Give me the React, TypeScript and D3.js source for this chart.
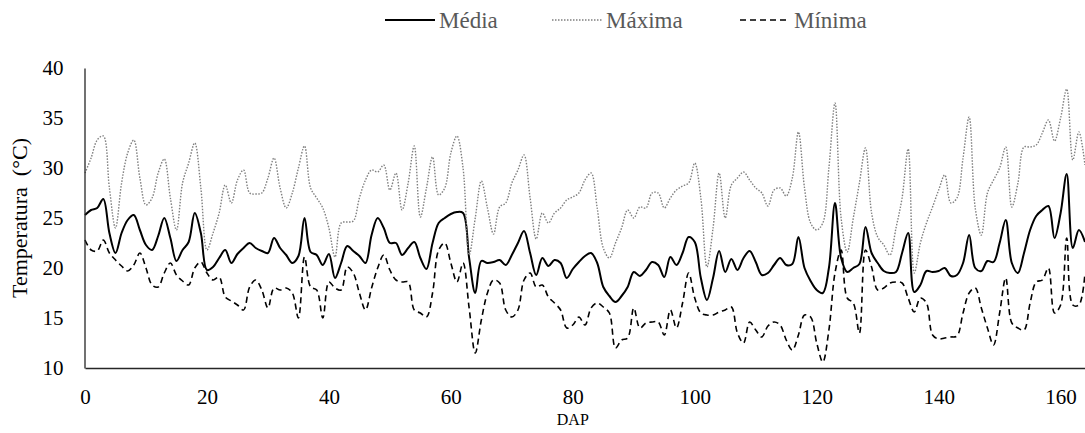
import React, { useRef, useEffect } from "react";
import * as d3 from "d3";

// days after planting (DAP)
const dap = d3.range(0, 165);

const media = [
  25.3, 25.8, 26.0, 26.9, 23.5, 21.5, 23.5, 24.8, 25.3, 23.8,
  22.3, 21.8, 23.2, 25.0, 23.0, 20.7, 21.8, 22.6, 25.5, 23.5,
  19.8, 20.1, 21.0, 21.8, 20.5, 21.4, 22.0, 22.5, 22.0, 21.7,
  21.5, 23.0, 22.0, 21.3, 20.5, 21.2, 25.0, 21.6, 21.3, 20.3,
  21.4, 19.0, 20.5, 22.2, 21.7, 21.2, 20.5, 23.3, 25.0, 24.0,
  22.5, 22.5, 21.3, 22.0, 22.6, 21.0, 19.9, 22.5, 24.5, 25.0,
  25.4, 25.6, 25.5, 21.0, 17.5, 20.7, 20.5, 20.6, 20.8, 20.3,
  21.3, 22.5, 23.7, 21.5, 19.3, 21.0, 20.2, 20.8, 20.5, 19.0,
  19.9, 20.6, 21.2, 21.5, 20.5, 18.1, 17.2, 16.6, 17.2, 18.1,
  19.6, 19.2, 19.8, 20.6, 20.3, 19.1, 21.1, 20.3, 21.5, 23.1,
  22.6, 19.0, 16.8, 19.0, 21.7, 19.6, 20.9, 19.8, 21.0, 21.7,
  20.6, 19.3, 19.5, 20.3, 21.0, 20.3, 20.4, 23.1, 20.0, 18.7,
  17.8, 17.5, 20.0, 26.5, 21.0, 19.6, 20.0, 20.4, 24.1, 21.5,
  20.5, 19.7, 19.5, 19.6, 21.5, 23.5, 17.6, 18.3, 19.7, 19.6,
  19.7, 20.0, 19.2, 19.3, 20.5, 23.3, 20.0, 19.7, 20.7, 20.6,
  22.5, 24.8, 20.5, 19.5, 21.5, 23.8, 25.2, 25.8, 26.2, 23.0,
  25.5, 29.4, 22.0, 23.8, 22.6,
];

const maxima = [
  29.5, 31.0, 32.8, 33.2, 28.0, 24.0, 28.5, 31.5, 32.8, 29.0,
  26.3, 27.0, 29.5, 30.9, 27.0, 23.8, 28.5, 30.5, 32.5, 28.0,
  21.8, 23.5, 25.5, 28.3, 26.5, 28.8, 29.8, 27.5, 27.4, 27.5,
  29.0, 31.0, 28.0, 26.0, 27.5, 30.0, 32.2, 28.0, 27.0, 26.0,
  24.0, 21.1, 24.5, 24.6, 24.7, 27.0, 28.8, 29.8, 29.6, 30.3,
  27.8, 29.5, 25.8, 28.5, 32.2, 25.1, 28.0, 31.1, 27.3, 28.0,
  31.5, 33.2, 30.0, 21.3, 25.0, 28.7, 26.0, 23.4, 26.1, 26.5,
  28.5, 29.8, 31.3, 27.0, 22.9, 25.5, 24.5, 25.5, 26.0, 26.8,
  27.1, 27.5, 28.8, 29.5, 26.0, 22.0, 21.0, 22.5, 24.0, 25.8,
  25.0, 26.1, 26.0, 27.5, 27.5, 26.0, 27.0, 27.8, 28.2, 28.5,
  30.5, 27.0, 20.1, 24.0, 29.5, 25.0, 28.3, 29.0, 29.6, 28.8,
  28.0, 27.5, 26.2, 27.8, 28.0, 27.2, 29.0, 33.6, 28.0, 24.5,
  23.8, 24.5, 30.0, 36.5, 25.0, 21.6, 25.0, 28.5, 32.0, 25.5,
  23.1, 22.3, 21.3, 24.0, 27.0, 31.9, 19.5, 22.5, 24.5, 26.1,
  27.8, 29.3, 26.5, 27.0, 31.0, 35.1, 26.0, 23.3, 27.5, 28.8,
  30.0, 32.1, 26.1, 28.5, 32.1, 32.1, 32.3, 33.5, 34.8, 32.7,
  35.0, 37.9, 30.8, 33.6, 30.3,
];

const minima = [
  22.8, 21.8, 21.7, 22.8, 21.5, 20.8, 20.2, 19.7, 20.3, 21.5,
  20.0, 18.3, 18.1, 19.5, 20.5, 19.3, 18.7, 18.3, 20.0, 20.6,
  19.5, 18.8, 19.1, 17.1, 16.7, 16.3, 15.8, 18.1, 18.8, 17.8,
  16.0, 18.0, 17.8, 18.0, 17.5, 15.0, 21.1, 18.1, 17.8, 15.0,
  18.6, 18.0, 17.8, 20.1, 19.5, 17.5, 15.8, 18.0, 20.0, 21.3,
  19.8, 18.8, 18.6, 18.6, 15.8, 15.5, 15.1, 17.5, 21.8, 22.5,
  20.5, 18.6, 20.5, 16.0, 11.5, 14.8, 17.5, 18.8, 18.5, 15.8,
  15.1, 15.8, 18.8, 19.5, 18.1, 18.3, 17.1, 16.5, 15.8, 14.0,
  14.3, 15.1, 14.3, 16.0, 16.5, 16.1, 15.5, 12.0, 12.8, 13.0,
  16.0, 14.0, 14.5, 14.6, 14.6, 13.3, 15.8, 14.0, 16.5, 19.5,
  17.0, 15.5, 15.3, 15.3, 15.6, 15.8, 16.1, 13.5, 12.5, 14.6,
  13.8, 13.1, 14.2, 14.6, 14.3, 12.8, 11.8, 13.3, 15.3, 15.1,
  12.5, 10.6, 13.8, 19.5, 21.8, 17.0, 16.5, 13.5, 21.8, 20.1,
  17.8, 18.0, 18.5, 18.6, 18.5, 17.0, 15.6, 17.0, 16.5, 13.3,
  12.9, 13.0, 13.1, 13.2, 15.5, 17.5, 18.0, 16.0, 14.0, 12.3,
  15.5, 19.0, 14.5, 14.0, 13.8, 16.5, 18.6, 18.8, 20.0, 15.5,
  16.3, 23.0, 16.3, 16.3, 19.5,
];

const xTicks = [0, 20, 40, 60, 80, 100, 120, 140, 160];
const yTicks = [10, 15, 20, 25, 30, 35, 40];

const series = [
  { name: "Média", values: media, stroke: "#000000", width: 2, dash: null },
  { name: "Máxima", values: maxima, stroke: "#7f7f7f", width: 1.4, dash: "1.5 1.5" },
  { name: "Mínima", values: minima, stroke: "#000000", width: 1.6, dash: "6 4" },
];

const width = 1085;
const height = 433;
const marginLeft = 85;
const marginRight = 0;
const marginTop = 68;
const marginBottom = 65;
const font = "Liberation Serif, Times New Roman, serif";

export default function App() {
  const gx = useRef(null);
  const gy = useRef(null);

  const x = d3.scaleLinear().domain([0, 164]).range([marginLeft, width - marginRight]);
  const y = d3.scaleLinear().domain([10, 40]).range([height - marginBottom, marginTop]);

  const line = d3
    .line<number>()
    .x((d, i) => x(dap[i]))
    .y((d) => y(d))
    .curve(d3.curveCatmullRom);

  useEffect(() => {
    const g = d3.select(gx.current);
    g.call(d3.axisBottom(x).tickValues(xTicks).tickSize(0).tickSizeOuter(0).tickPadding(21));
    g.attr("font-family", font).attr("font-size", 21);
    g.select(".domain").attr("stroke", "#262626").attr("stroke-width", 1.3);
    g.selectAll("text").attr("fill", "#000");
  }, []);

  useEffect(() => {
    const g = d3.select(gy.current);
    g.call(d3.axisLeft(y).tickValues(yTicks).tickSize(0).tickSizeOuter(0).tickPadding(21));
    g.attr("font-family", font).attr("font-size", 21);
    g.select(".domain").attr("stroke", "#262626").attr("stroke-width", 1.3);
    g.selectAll("text").attr("fill", "#000");
  }, []);

  const legendX = [385, 552, 740];

  return (
    <svg
      width={width}
      height={height}
      style={{ position: "absolute", left: 0, top: 0, background: "#fff" }}
    >
      {series.map((s) => (
        <path
          key={s.name}
          d={line(s.values) || ""}
          fill="none"
          stroke={s.stroke}
          strokeWidth={s.width}
          strokeDasharray={s.dash || undefined}
        />
      ))}
      <g ref={gx} transform={`translate(0,${height - marginBottom})`} />
      <g ref={gy} transform={`translate(${marginLeft - 0.5},0)`} />

      {/* legend */}
      <g fontFamily={font} fontSize={23} fill="#595959">
        {series.map((s, i) => (
          <g key={s.name} transform={`translate(${legendX[i]},20)`}>
            <line
              x1={0}
              x2={50}
              y1={0}
              y2={0}
              stroke={s.stroke}
              strokeWidth={s.width}
              strokeDasharray={s.dash || undefined}
            />
            <text x={54} y={0} dy="0.35em">
              {s.name}
            </text>
          </g>
        ))}
      </g>

      <text
        transform={`translate(27,${y(25)}) rotate(-90)`}
        textAnchor="middle"
        fontFamily={font}
        fontSize={22}
        fill="#000"
        style={{ whiteSpace: "pre" }}
      >
        {"Temperatura  (°C)"}
      </text>
      <text
        x={x(80)}
        y={425}
        textAnchor="middle"
        fontFamily={font}
        fontSize={16}
        fill="#000"
      >
        DAP
      </text>
    </svg>
  );
}
